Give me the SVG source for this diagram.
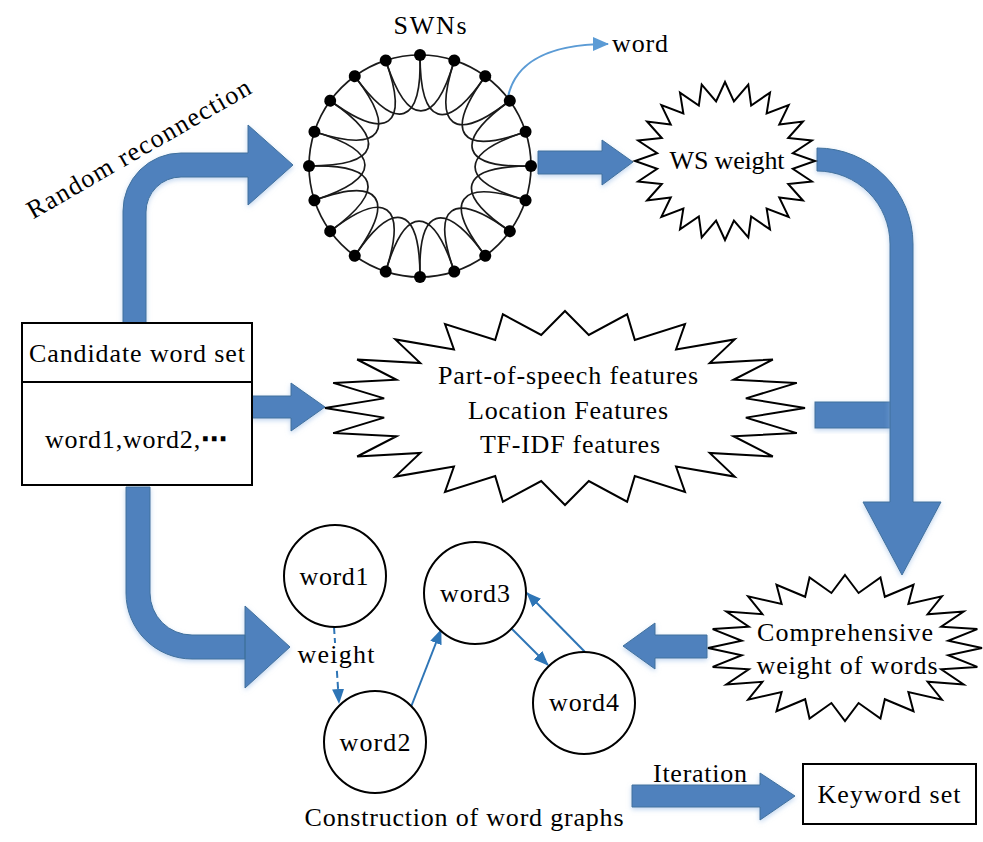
<svg xmlns="http://www.w3.org/2000/svg" xmlns:xlink="http://www.w3.org/1999/xlink" width="983" height="842" viewBox="0 0 983 842">
<style>
.t{font-family:"Liberation Serif","Times New Roman","DejaVu Serif",serif;font-size:26px;fill:#000;}
.m{text-anchor:middle;}
.arrow{fill:#4F81BD;stroke:#41719C;stroke-width:1;filter:url(#sh);}
.box{fill:#fff;stroke:#000;stroke-width:2;}
.circ{fill:#fff;stroke:#000;stroke-width:2;}
.edge{stroke:#2E75B6;stroke-width:2;fill:none;}
.swn{fill:none;stroke:#1a1a1a;stroke-width:1.7;}
</style>
<defs>
<filter id="sh" x="-20%" y="-20%" width="140%" height="140%">
<feDropShadow dx="0" dy="2" stdDeviation="2.5" flood-color="#8FB4E3" flood-opacity="0.55"/>
</filter>
<polygon id="star24" fill="#fff" stroke="#000" stroke-width="2" vector-effect="non-scaling-stroke" points="0,-100 9.92,-75.35 25.88,-96.59 29.08,-70.21 50,-86.6 46.27,-60.29 70.71,-70.71 60.29,-46.27 86.6,-50 70.21,-29.08 96.59,-25.88 75.35,-9.92 100,0 75.35,9.92 96.59,25.88 70.21,29.08 86.6,50 60.29,46.27 70.71,70.71 46.27,60.29 50,86.6 29.08,70.21 25.88,96.59 9.92,75.35 0,100 -9.92,75.35 -25.88,96.59 -29.08,70.21 -50,86.6 -46.27,60.29 -70.71,70.71 -60.29,46.27 -86.6,50 -70.21,29.08 -96.59,25.88 -75.35,9.92 -100,0 -75.35,-9.92 -96.59,-25.88 -70.21,-29.08 -86.6,-50 -60.29,-46.27 -70.71,-70.71 -46.27,-60.29 -50,-86.6 -29.08,-70.21 -25.88,-96.59 -9.92,-75.35"/>
<g id="swnEdge" class="swn">
<path d="M420,55 A111,111 0 0 1 454.3,60.43"/>
<path d="M420,55 C420,126 446,134 485.24,76.2"/>
</g>
<circle id="swnNode" cx="420" cy="55" r="6" fill="#000"/>
<marker id="ah" markerWidth="15" markerHeight="12" refX="14" refY="6" orient="auto" markerUnits="userSpaceOnUse"><path d="M0,0 L15,6 L0,12 z" fill="#2E75B6"/></marker>
<marker id="ah2" markerWidth="16" markerHeight="14" refX="15" refY="7" orient="auto" markerUnits="userSpaceOnUse"><path d="M0,0 L16,7 L0,14 z" fill="#5B9BD5"/></marker>
</defs>
<rect width="983" height="842" fill="#fff"/>

<g id="connectors">
<path class="arrow" d="M123,323 L123,211 A58,58 0 0 1 181,153 L248,153 L248,125 L293,165 L248,205 L248,177 L181,177 A35,35 0 0 0 146,212 L146,323 Z"/>
<path class="arrow" d="M538,151 L602,151 L602,140 L633,162 L602,185 L602,174 L538,174 Z"/>
<rect class="arrow" x="815" y="402" width="76" height="26"/>
<path class="arrow" d="M817,148 A96,96 0 0 1 913,244 L913,502 L941,502 L902,575 L863,502 L890,502 L890,244 A73,73 0 0 0 817,171 Z"/>
<path class="arrow" d="M252,396 L291,396 L291,383 L325,407 L291,431 L291,418 L252,418 Z"/>
<path class="arrow" d="M126,487 L126,593 A66,66 0 0 0 192,659 L245,659 L245,606 L290,647 L245,688 L245,635 L192,635 A42,42 0 0 1 150,593 L150,487 Z"/>
<path class="arrow" d="M707,635 L655,635 L655,623 L623,646 L655,669 L655,658 L707,658 Z"/>
<path class="arrow" d="M632,785 L760,785 L760,773 L795,796 L760,820 L760,807 L632,807 Z"/>
<path d="M508,97 C514,68 540,44 608,44" fill="none" stroke="#5B9BD5" stroke-width="2" marker-end="url(#ah2)"/>
<line class="edge" x1="334" y1="627" x2="339" y2="703" stroke-dasharray="7,4" marker-end="url(#ah)"/>
<line class="edge" x1="411" y1="707" x2="441" y2="630" marker-end="url(#ah)"/>
<line class="edge" x1="511" y1="628" x2="548" y2="665" marker-end="url(#ah)"/>
<line class="edge" x1="585" y1="652" x2="527" y2="593" marker-end="url(#ah)"/>
<rect x="297" y="643" width="80" height="27" fill="#fff"/>
<text class="t m" x="336" y="663" textLength="77">weight</text>
<text class="t m" x="143" y="156" font-size="27" textLength="254" transform="rotate(-30 143 156)">Random reconnection</text>
<text class="t" x="612" y="52" textLength="56">word</text>
<text class="t m" x="700" y="782" textLength="94">Iteration</text>
</g>

<g id="swn">
<use xlink:href="#swnEdge"/>
<use xlink:href="#swnEdge" transform="rotate(18 420 166)"/>
<use xlink:href="#swnEdge" transform="rotate(36 420 166)"/>
<use xlink:href="#swnEdge" transform="rotate(54 420 166)"/>
<use xlink:href="#swnEdge" transform="rotate(72 420 166)"/>
<use xlink:href="#swnEdge" transform="rotate(90 420 166)"/>
<use xlink:href="#swnEdge" transform="rotate(108 420 166)"/>
<use xlink:href="#swnEdge" transform="rotate(126 420 166)"/>
<use xlink:href="#swnEdge" transform="rotate(144 420 166)"/>
<use xlink:href="#swnEdge" transform="rotate(162 420 166)"/>
<use xlink:href="#swnEdge" transform="rotate(180 420 166)"/>
<use xlink:href="#swnEdge" transform="rotate(198 420 166)"/>
<use xlink:href="#swnEdge" transform="rotate(216 420 166)"/>
<use xlink:href="#swnEdge" transform="rotate(234 420 166)"/>
<use xlink:href="#swnEdge" transform="rotate(252 420 166)"/>
<use xlink:href="#swnEdge" transform="rotate(270 420 166)"/>
<use xlink:href="#swnEdge" transform="rotate(288 420 166)"/>
<use xlink:href="#swnEdge" transform="rotate(306 420 166)"/>
<use xlink:href="#swnEdge" transform="rotate(324 420 166)"/>
<use xlink:href="#swnEdge" transform="rotate(342 420 166)"/>
<use xlink:href="#swnNode"/>
<use xlink:href="#swnNode" transform="rotate(18 420 166)"/>
<use xlink:href="#swnNode" transform="rotate(36 420 166)"/>
<use xlink:href="#swnNode" transform="rotate(54 420 166)"/>
<use xlink:href="#swnNode" transform="rotate(72 420 166)"/>
<use xlink:href="#swnNode" transform="rotate(90 420 166)"/>
<use xlink:href="#swnNode" transform="rotate(108 420 166)"/>
<use xlink:href="#swnNode" transform="rotate(126 420 166)"/>
<use xlink:href="#swnNode" transform="rotate(144 420 166)"/>
<use xlink:href="#swnNode" transform="rotate(162 420 166)"/>
<use xlink:href="#swnNode" transform="rotate(180 420 166)"/>
<use xlink:href="#swnNode" transform="rotate(198 420 166)"/>
<use xlink:href="#swnNode" transform="rotate(216 420 166)"/>
<use xlink:href="#swnNode" transform="rotate(234 420 166)"/>
<use xlink:href="#swnNode" transform="rotate(252 420 166)"/>
<use xlink:href="#swnNode" transform="rotate(270 420 166)"/>
<use xlink:href="#swnNode" transform="rotate(288 420 166)"/>
<use xlink:href="#swnNode" transform="rotate(306 420 166)"/>
<use xlink:href="#swnNode" transform="rotate(324 420 166)"/>
<use xlink:href="#swnNode" transform="rotate(342 420 166)"/>
<text class="t m" x="430" y="34" textLength="73">SWNs</text>
</g>

<g id="ws-weight">
<use xlink:href="#star24" transform="translate(725 161) scale(0.9 0.79)"/>
<text class="t m" x="727" y="169" font-size="25" textLength="115">WS weight</text>
</g>

<g id="features">
<use xlink:href="#star24" transform="translate(565 408) scale(2.4 0.97)"/>
<text class="t m" x="568" y="384" textLength="260">Part-of-speech features</text>
<text class="t m" x="568" y="419" textLength="200">Location Features</text>
<text class="t m" x="570" y="453" textLength="180">TF-IDF features</text>
</g>

<g id="comprehensive">
<use xlink:href="#star24" transform="translate(845 648) scale(1.37 0.73)"/>
<text class="t m" x="845" y="641" textLength="176">Comprehensive</text>
<text class="t m" x="847" y="674" textLength="181">weight of words</text>
</g>

<g id="candidate-set">
<rect class="box" x="22" y="323" width="230" height="162"/>
<line x1="22" y1="382" x2="252" y2="382" stroke="#000" stroke-width="2"/>
<text class="t m" x="137" y="362" textLength="216">Candidate word set</text>
<text class="t m" x="136" y="448" textLength="182">word1,word2,<tspan font-family="'DejaVu Sans',sans-serif" font-weight="bold">⋯</tspan></text>
</g>

<g id="word1">
<circle class="circ" cx="335" cy="576" r="51"/>
<text class="t m" x="334" y="585" textLength="69">word1</text>
</g>
<g id="word2">
<circle class="circ" cx="375" cy="742" r="51"/>
<text class="t m" x="375" y="751" textLength="71">word2</text>
</g>
<g id="word3">
<circle class="circ" cx="475" cy="593" r="51"/>
<text class="t m" x="475" y="602" textLength="70">word3</text>
</g>
<g id="word4">
<circle class="circ" cx="584" cy="703" r="51"/>
<text class="t m" x="584" y="711" textLength="70">word4</text>
</g>

<g id="caption">
<text class="t m" x="464" y="826" textLength="319">Construction of word graphs</text>
</g>

<g id="keyword-set">
<rect class="box" x="803" y="764" width="173" height="60"/>
<text class="t m" x="889" y="803" textLength="143">Keyword set</text>
</g>
</svg>
